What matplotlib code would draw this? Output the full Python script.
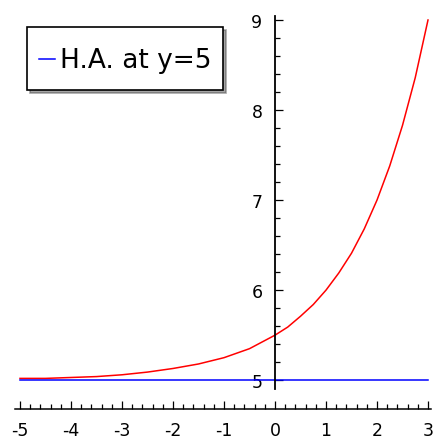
import matplotlib
matplotlib.use('Agg')
import matplotlib.pyplot as plt
from matplotlib.ticker import MultipleLocator

plt.rcParams['axes.unicode_minus'] = False

# red curve
curve_x = [-5, -4.5, -4, -3.5, -3, -2.5, -2, -1.5, -1, -0.5, 0,
           0.25, 0.5, 0.75, 1, 1.25, 1.5, 1.75, 2, 2.25, 2.5, 2.75, 3]
curve_y = [5.02, 5.02, 5.03, 5.04, 5.06, 5.09, 5.13, 5.18, 5.25, 5.35, 5.5,
           5.59, 5.71, 5.84, 6.0, 6.19, 6.41, 6.68, 7.0, 7.38, 7.83, 8.36, 9.0]
# horizontal asymptote
ha_x = [-5, 3]
ha_y = [5, 5]
ha_label = 'H.A. at y=5'

W, H = 434, 439
fig = plt.figure(figsize=(W / 100, H / 100), dpi=100)

# axes placement in pixels
x_lo, x_hi = -5.15, 3.08
y_lo, y_hi = 4.68, 9.1
left_px = 20 - 0.15 * 51
right_px = 428 + 0.08 * 51
top_px = 21 - 0.1 * 90
bottom_px = 410
ax = fig.add_axes([left_px / W, 1 - bottom_px / H,
                   (right_px - left_px) / W, (bottom_px - top_px) / H])

ax.plot(curve_x, curve_y, color='red', linewidth=1.1)
ax.plot(ha_x, ha_y, color='blue', linewidth=1.1, label=ha_label)

ax.set_xlim(x_lo, x_hi)
ax.set_ylim(y_lo, y_hi)

ax.spines['top'].set_visible(False)
ax.spines['right'].set_visible(False)
ax.spines['left'].set_position(('data', 0))
ax.spines['left'].set_bounds(4.9, 9.05)
ax.spines['bottom'].set_bounds(-5.1, 3.05)
ax.spines['left'].set_linewidth(1.3)
ax.spines['bottom'].set_linewidth(1.1)

ax.xaxis.set_major_locator(MultipleLocator(1))
ax.xaxis.set_minor_locator(MultipleLocator(0.2))
ax.set_yticks([5, 6, 7, 8, 9])
ax.set_yticks([v / 5 for v in range(25, 46)], minor=True)

ax.tick_params(which='both', direction='in', width=0.9, labelsize=12.5,
               colors='black')
ax.tick_params(which='major', length=6)
ax.tick_params(which='minor', length=3.5)
ax.tick_params(axis='x', pad=9)
ax.tick_params(axis='y', pad=9)

leg = ax.legend(loc='upper left', bbox_to_anchor=(27 / W, 1 - 28 / H),
                bbox_transform=fig.transFigure, borderaxespad=0,
                fancybox=False, shadow=True, fontsize=19,
                handlelength=0.6, handletextpad=0.2, borderpad=0.45,
                handleheight=1.9, framealpha=1)
leg.get_frame().set_edgecolor('black')
leg.get_frame().set_linewidth(1.2)
# move the short handle down to the middle of the text
hl = leg.get_lines()[0]
hl.set_ydata([y - 4.5 for y in hl.get_ydata()])

fig.savefig('out.png', dpi=100)
